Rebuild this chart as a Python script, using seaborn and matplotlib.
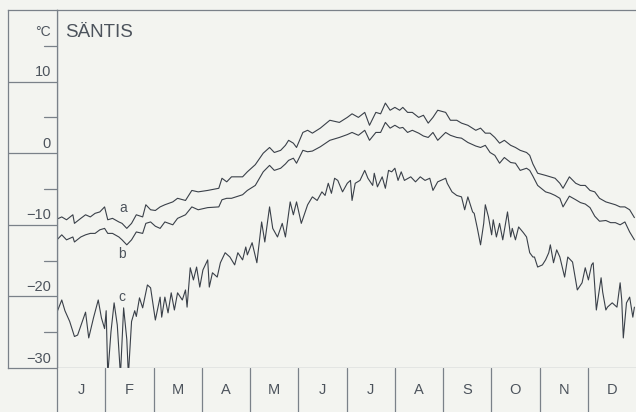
import numpy as np
import pandas as pd
import matplotlib
matplotlib.use('Agg')
import matplotlib.pyplot as plt
import seaborn as sns

sns.set_style('white')
plt.rcParams['font.family'] = ['Liberation Sans', 'DejaVu Sans']

# %% Data (day of year, deg C)

# a and b share the same day grid
days_ab = [0, 3, 6, 10, 11, 15, 18, 21, 24, 27, 30, 32, 35, 39, 41, 44, 47, 50, 54, 56,
           59, 62, 65, 68, 73, 76, 81, 85, 89, 95, 102, 104, 107, 110, 117, 120, 125, 130, 134, 137,
           141, 144, 146, 149, 151, 155, 158, 161, 166, 172, 178, 183, 186, 190, 194, 197, 201, 204, 207, 210,
           213, 216, 218, 221, 224, 228, 231, 234, 237, 240, 245, 248, 252, 255, 259, 264, 267, 270, 273, 276,
           279, 282, 286, 289, 292, 296, 298, 300, 303, 308, 311, 314, 317, 319, 323, 327, 330, 333, 336, 339,
           342, 346, 349, 352, 355, 358, 361, 364]

temp_a = [-9.2, -8.9, -9.3, -8.6, -9.8, -9.1, -8.6, -8.9, -8.4, -8.2, -7.5, -9.3, -9.1, -9.6, -9.8, -10.5, -9.8, -8.6, -8.9, -7.2,
          -7.9, -8.0, -7.5, -7.2, -6.8, -6.3, -6.6, -5.2, -5.4, -5.2, -4.9, -3.5, -4.0, -3.3, -3.3, -2.6, -1.6, 0.0, 0.8, 0.1,
          0.4, 1.1, 1.8, 1.4, 0.8, 2.9, 3.2, 2.8, 3.5, 4.6, 4.3, 5.0, 5.5, 5.0, 5.7, 3.9, 5.7, 5.5, 7.0, 6.0,
          6.4, 6.0, 6.4, 5.7, 5.7, 5.0, 5.3, 4.2, 5.0, 6.0, 5.7, 4.6, 4.6, 4.2, 3.9, 3.2, 3.5, 2.8, 2.8, 2.2,
          1.4, 1.8, 1.1, 0.8, 0.4, 0.1, -0.3, -1.5, -2.8, -3.1, -3.3, -3.5, -4.2, -4.9, -3.3, -4.2, -4.5, -4.5, -5.2, -5.4,
          -6.3, -6.8, -7.0, -7.2, -7.5, -7.5, -7.9, -9.0]

temp_b = [-12.1, -11.4, -12.1, -11.7, -12.4, -11.7, -11.4, -11.2, -11.2, -10.7, -10.5, -11.2, -11.2, -11.7, -12.1, -12.8, -12.1, -11.0, -11.2, -9.8,
          -9.6, -10.2, -10.5, -9.6, -10.0, -9.1, -8.6, -7.5, -7.9, -7.6, -7.5, -6.5, -6.3, -6.3, -5.8, -5.2, -4.5, -2.6, -1.7, -2.4,
          -2.1, -1.5, -1.0, -0.7, -1.4, 0.4, 0.2, 0.3, 0.9, 1.8, 2.2, 2.6, 2.9, 2.5, 3.2, 1.8, 2.9, 2.9, 4.3, 3.5,
          3.9, 3.5, 3.6, 2.9, 3.2, 2.8, 2.4, 2.2, 2.9, 1.8, 2.9, 2.5, 2.2, 2.1, 1.5, 1.0, 0.8, 1.1, 0.1, -0.3,
          -1.4, -0.6, -1.3, -1.4, -2.4, -2.1, -2.4, -3.2, -4.5, -5.4, -5.6, -5.9, -6.3, -7.5, -6.0, -6.5, -6.9, -7.1, -7.6, -8.8,
          -9.5, -9.4, -9.7, -9.7, -10.0, -9.6, -11.0, -12.1]

days_c = [0, 3, 5, 8, 11, 13, 16, 18, 20, 23, 26, 28, 30, 31, 32, 34, 36, 38, 40, 42,
          44, 45, 47, 49, 50, 52, 54, 57, 59, 62, 65, 66, 68, 70, 72, 74, 76, 79, 81, 82,
          84, 86, 88, 90, 92, 95, 96, 98, 101, 103, 106, 109, 112, 114, 117, 119, 120, 123, 126, 129,
          131, 134, 136, 139, 142, 144, 147, 149, 151, 154, 158, 161, 164, 167, 169, 171, 173, 175, 177, 180,
          183, 185, 186, 188, 191, 194, 196, 199, 200, 202, 205, 207, 209, 211, 213, 215, 217, 219, 223, 226,
          229, 232, 235, 237, 240, 245, 246, 249, 252, 255, 257, 259, 262, 263, 265, 267, 269, 270, 272, 274,
          275, 277, 279, 281, 284, 286, 287, 289, 291, 294, 296, 298, 300, 301, 303, 306, 308, 310, 311, 313,
          315, 317, 320, 322, 325, 328, 331, 333, 335, 337, 338, 340, 343, 344, 346, 347, 350, 353, 355, 356,
          357, 359, 361, 363, 364]

temp_c = [-22.2, -20.5, -22.0, -23.5, -25.6, -25.4, -23.5, -22.2, -25.8, -23.0, -20.5, -23.0, -24.5, -22.0, -31.0, -25.0, -20.9, -24.0, -31.0, -21.6,
          -26.0, -31.0, -23.5, -22.0, -22.8, -20.2, -21.6, -18.4, -18.8, -23.3, -20.1, -22.9, -20.1, -22.3, -19.5, -21.9, -19.5, -20.5, -19.1, -21.5,
          -16.0, -17.7, -15.9, -18.7, -16.3, -14.9, -18.7, -16.7, -17.3, -15.3, -13.9, -14.5, -15.6, -13.9, -14.9, -13.1, -14.2, -12.5, -15.3, -9.6,
          -12.4, -7.5, -10.5, -11.7, -9.8, -11.7, -6.8, -8.6, -6.8, -9.8, -7.2, -6.1, -6.6, -5.4, -5.9, -4.2, -5.6, -3.5, -3.8, -5.4,
          -4.2, -3.8, -6.6, -4.2, -3.8, -2.4, -3.5, -4.5, -2.8, -4.7, -3.3, -4.9, -2.4, -2.6, -2.1, -3.8, -2.6, -3.8, -3.3, -4.0,
          -3.3, -3.8, -3.5, -5.2, -4.0, -3.5, -4.2, -5.4, -5.9, -6.1, -7.9, -6.1, -8.2, -8.4, -10.5, -12.8, -9.8, -7.2, -8.9, -11.4,
          -9.3, -11.7, -9.8, -12.1, -8.2, -11.7, -10.5, -12.1, -10.3, -11.1, -11.7, -13.9, -14.5, -14.5, -15.9, -15.6, -14.9, -13.9, -12.8, -15.3,
          -13.5, -14.5, -17.3, -14.5, -15.2, -19.1, -18.1, -16.0, -17.7, -15.6, -15.3, -21.9, -17.4, -19.4, -21.9, -21.5, -20.9, -21.5, -18.1, -20.5,
          -25.8, -20.9, -20.1, -22.9, -21.5]

y_ticks = [10, 0, -10, -20, -30]
y_minor = [15, 5, -5, -15, -25]
months = ['J', 'F', 'M', 'A', 'M', 'J', 'J', 'A', 'S', 'O', 'N', 'D']

# %% Figure

paper = '#f3f4f0'
ink = '#3a4049'
frame = '#7a8189'
txt = '#4c535c'

fig = plt.figure(figsize=(6.36, 4.12), dpi=100, facecolor=paper)

# main panel
ax = fig.add_axes([57/636, 44/412, 579/636, 358/412], facecolor=paper)
for y in [temp_a, temp_b]:
    sns.lineplot(x=days_ab, y=y, ax=ax, color=ink, lw=0.8, estimator=None, sort=False)
sns.lineplot(x=days_c, y=temp_c, ax=ax, color=ink, lw=0.8, estimator=None, sort=False)
ax.set_xlim(0, 365)
ax.set_ylim(-30, 20)
ax.set_xticks([])
ax.set_yticks([])
ax.set_xlabel('')
ax.set_ylabel('')
ax.spines['right'].set_visible(False)
for s in ['left', 'top', 'bottom']:
    ax.spines[s].set_color(frame)
    ax.spines[s].set_linewidth(0.9)

ax.text(42, -7.7, 'a', color=txt, fontsize=10, ha='center', va='center')
ax.text(41, -14.1, 'b', color=txt, fontsize=10, ha='center', va='center')
ax.text(41, -20.1, 'c', color=txt, fontsize=10, ha='center', va='center')
ax.text(5, 16.9, 'SÄNTIS', color=txt, fontsize=13.5, ha='left', va='center')

# left scale column
ay = fig.add_axes([8/636, 44/412, 49/636, 358/412], facecolor=paper)
ay.set_xlim(0, 1)
ay.set_ylim(-30, 20)
ay.set_xticks([])
ay.set_yticks([])
for s in ay.spines.values():
    s.set_color(frame)
    s.set_linewidth(0.9)
for v in y_ticks[:-1]:
    ay.axhline(v, color=frame, lw=0.9)
for v in y_minor:
    ay.plot([0.74, 1], [v, v], color=frame, lw=0.9)
for v in y_ticks:
    ay.text(0.88, v + 1.3, str(v).replace('-', '\u2212'), color=txt, fontsize=10.5,
            ha='right', va='center')
ay.text(0.88, 16.9, '°C', color=txt, fontsize=10, ha='right', va='center')

# month row
am = fig.add_axes([57/636, 0, 579/636, 44/412], facecolor=paper)
am.set_xlim(0, 12)
am.set_ylim(0, 1)
am.set_xticks([])
am.set_yticks([])
for s in ['top', 'right', 'bottom']:
    am.spines[s].set_visible(False)
am.spines['left'].set_color(frame)
am.spines['left'].set_linewidth(0.9)
for i in range(1, 12):
    am.axvline(i, color=frame, lw=0.9)
for i, m in enumerate(months):
    am.text(i + 0.5, 0.5, m, color=txt, fontsize=10.5, ha='center', va='center')

fig.savefig('out.png', dpi=100, facecolor=paper)
